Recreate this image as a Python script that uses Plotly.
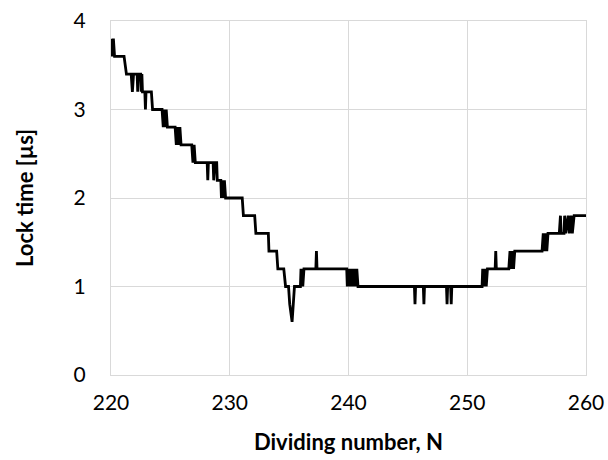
import plotly.graph_objects as go

# Lock time versus dividing number (stepped, quantised to 0.2 us)
dividing_n = [
    220.0, 220.1, 220.2, 220.3, 221.1, 221.3, 221.7, 221.8, 221.9, 222.2,
    222.25, 222.3, 222.5, 222.55, 222.6, 222.65, 222.85, 222.9, 222.95, 223.4,
    223.5, 224.3, 224.4, 224.5, 224.6, 224.65, 224.75, 225.4, 225.5, 225.6,
    225.7, 225.8, 225.9, 226.8, 226.9, 227.0, 227.1, 228.1, 228.15, 228.2,
    228.6, 228.65, 228.75, 228.9, 228.95, 229.25, 229.3, 229.4, 229.5, 229.55,
    229.65, 231.05, 231.15, 232.1, 232.2, 233.25, 233.3, 233.95, 234.05, 234.55,
    234.7, 234.95, 235.05, 235.25, 235.45, 235.95, 236.0, 236.05, 236.1, 236.15,
    236.25, 237.25, 237.3, 237.35, 239.85, 239.9, 239.95, 240.0, 240.1, 240.2,
    240.3, 240.4, 240.5, 240.6, 240.7, 240.8, 245.55, 245.6, 245.65, 246.3,
    246.35, 246.4, 248.25, 248.3, 248.35, 248.6, 248.65, 248.7, 251.25, 251.3,
    251.4, 251.5, 251.6, 251.7, 252.35, 252.4, 252.45, 253.5, 253.6, 253.7,
    253.8, 253.9, 254.0, 254.1, 256.3, 256.4, 256.5, 256.6, 256.7, 256.8,
    256.9, 257.75, 257.85, 257.9, 258.15, 258.2, 258.3, 258.5, 258.6, 258.75,
    258.85, 259.0, 260.0,
]
lock_time_us = [
    3.8, 3.6, 3.8, 3.6, 3.6, 3.4, 3.4, 3.2, 3.4, 3.4,
    3.2, 3.4, 3.4, 3.2, 3.4, 3.2, 3.2, 3.0, 3.2, 3.2,
    3.0, 3.0, 2.8, 3.0, 2.8, 3.0, 2.8, 2.8, 2.6, 2.8,
    2.6, 2.8, 2.6, 2.6, 2.4, 2.6, 2.4, 2.4, 2.2, 2.4,
    2.4, 2.2, 2.4, 2.4, 2.2, 2.2, 2.0, 2.2, 2.0, 2.2,
    2.0, 2.0, 1.8, 1.8, 1.6, 1.6, 1.4, 1.4, 1.2, 1.2,
    1.0, 1.0, 0.8, 0.6, 1.0, 1.0, 1.2, 1.0, 1.2, 1.0,
    1.2, 1.2, 1.4, 1.2, 1.2, 1.0, 1.2, 1.0, 1.2, 1.0,
    1.2, 1.0, 1.2, 1.0, 1.2, 1.0, 1.0, 0.8, 1.0, 1.0,
    0.8, 1.0, 1.0, 0.8, 1.0, 1.0, 0.8, 1.0, 1.0, 1.2,
    1.0, 1.2, 1.0, 1.2, 1.2, 1.4, 1.2, 1.2, 1.4, 1.2,
    1.4, 1.2, 1.4, 1.4, 1.4, 1.6, 1.4, 1.6, 1.4, 1.6,
    1.6, 1.6, 1.8, 1.6, 1.6, 1.8, 1.6, 1.8, 1.6, 1.8,
    1.6, 1.8, 1.8,
]

x_ticks = [220, 230, 240, 250, 260]
y_ticks = [0, 1, 2, 3, 4]

grid = "#d9d9d9"
font_family = "Lato, 'Open Sans', sans-serif"

fig = go.Figure(
    go.Scatter(
        x=dividing_n,
        y=lock_time_us,
        mode="lines",
        line=dict(color="black", width=2.8),
        showlegend=False,
    )
)

fig.update_layout(
    width=608,
    height=460,
    margin=dict(l=111, r=22, t=21, b=85),
    paper_bgcolor="white",
    plot_bgcolor="white",
    font=dict(family=font_family, color="black", size=21),
)

fig.update_xaxes(
    range=[220, 260],
    automargin=False,
    tickvals=x_ticks,
    ticktext=[str(v) for v in x_ticks],
    showgrid=True,
    gridcolor=grid,
    gridwidth=1,
    zeroline=False,
    showline=True,
    linecolor=grid,
    linewidth=1,
    mirror=True,
    ticks="outside",
    ticklen=9,
    tickcolor="rgba(0,0,0,0)",
    tickfont=dict(size=21, family=font_family),
    title=dict(
        text="<b>Dividing number, N</b>",
        font=dict(size=22, family=font_family),
        standoff=21,
    ),
)

fig.update_yaxes(
    range=[0, 4],
    automargin=False,
    tickvals=y_ticks,
    ticktext=[str(v) for v in y_ticks],
    showgrid=True,
    gridcolor=grid,
    gridwidth=1,
    zeroline=False,
    showline=True,
    linecolor=grid,
    linewidth=1,
    mirror=True,
    ticks="outside",
    ticklen=20,
    tickcolor="rgba(0,0,0,0)",
    tickfont=dict(size=21, family=font_family),
    title=dict(
        text="<b>Lock time [µs]</b>",
        font=dict(size=22, family=font_family),
        standoff=33,
    ),
)

fig.write_html("out.html")
